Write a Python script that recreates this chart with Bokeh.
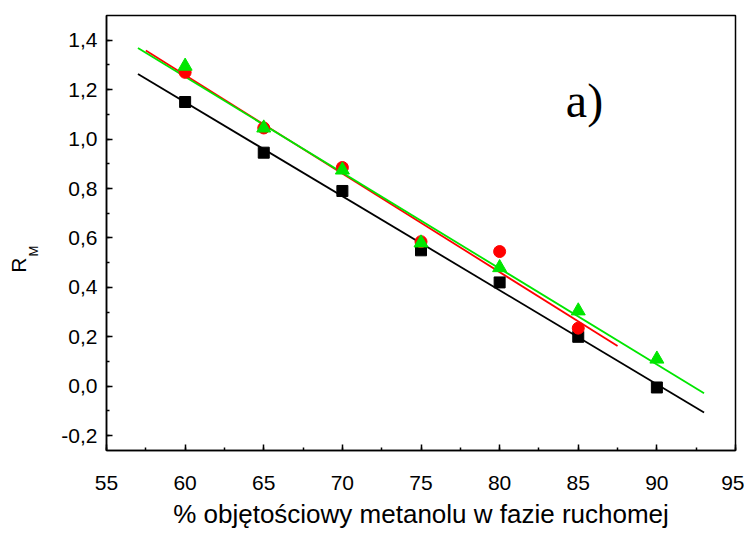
import numpy as np
from bokeh.plotting import figure
from bokeh.models import Label, Range1d, SingleIntervalTicker, CustomJSTickFormatter, LinearAxis, FixedTicker
from bokeh.embed import file_html
from bokeh.resources import INLINE

# data
methanol = [60, 65, 70, 75, 80, 85, 90]
rm_black = [1.15, 0.945, 0.79, 0.55, 0.42, 0.20, -0.005]
methanol_red = [60, 65, 70, 75, 80, 85]
rm_red = [1.27, 1.045, 0.885, 0.585, 0.545, 0.235]
rm_green = [1.295, 1.045, 0.875, 0.58, 0.48, 0.305, 0.11]
fit_span_black = [57, 93]
fit_span_red = [57.5, 87.5]
fit_span_green = [57, 93]

X0, X1 = 55, 95
Y0, Y1 = -0.26, 1.5
W, H = 744, 532
ML, MR, MT, MB = 106, 9, 15, 82

p = figure(width=W, height=H, output_backend="svg", toolbar_location=None,
           x_range=Range1d(X0, X1), y_range=Range1d(Y0, Y1),
           min_border_left=ML, min_border_right=MR, min_border_top=MT, min_border_bottom=MB)
p.grid.visible = False
p.outline_line_color = "black"
p.outline_line_width = 1.5
p.background_fill_color = "white"
p.border_fill_color = "white"

p.xaxis.ticker = SingleIntervalTicker(interval=5, num_minor_ticks=2)
p.yaxis.ticker = SingleIntervalTicker(interval=0.2, num_minor_ticks=2)
p.xaxis.formatter = CustomJSTickFormatter(code="return tick.toFixed(0);")
p.yaxis.formatter = CustomJSTickFormatter(code="return tick.toFixed(1).replace('.', ',');")
for ax in (p.xaxis[0], p.yaxis[0]):
    ax.axis_line_color = "black"
    ax.axis_line_width = 1.5
    ax.major_tick_in = 6
    ax.major_tick_out = 0
    ax.minor_tick_in = 3
    ax.minor_tick_out = 0
    ax.major_tick_line_width = 1.5
    ax.minor_tick_line_width = 1.5
    ax.major_tick_line_color = "black"
    ax.minor_tick_line_color = "black"
    ax.major_label_text_font = "Liberation Sans"
    ax.major_label_text_font_size = "21px"
    ax.major_label_text_color = "black"
p.xaxis.major_label_standoff = 25
p.yaxis.major_label_standoff = 9
p.xaxis.axis_label = "% objętościowy metanolu w fazie ruchomej"
p.xaxis.axis_label_text_font = "Liberation Sans"
p.xaxis.axis_label_text_font_size = "26px"
p.xaxis.axis_label_text_font_style = "normal"
p.xaxis.axis_label_text_color = "black"
p.xaxis.axis_label_text_line_height = 1.0
p.xaxis.axis_label_standoff = 6

# y axis label: R with subscript M (M on the inner axis, R on an outer, tick-less axis)
NB = "\u00a0"
p.yaxis.axis_label = "M" + NB * 10
p.yaxis.axis_label_text_font = "Liberation Sans"
p.yaxis.axis_label_text_font_size = "13px"
p.yaxis.axis_label_text_font_style = "normal"
p.yaxis.axis_label_text_color = "black"
p.yaxis.axis_label_standoff = 17

outer = LinearAxis(ticker=FixedTicker(ticks=[]), axis_line_color=None,
                   major_tick_in=0, major_tick_out=0, minor_tick_in=0, minor_tick_out=0,
                   major_label_text_font_size="0px",
                   axis_label="R" + NB * 11, axis_label_text_font="Liberation Sans",
                   axis_label_text_font_size="21px", axis_label_text_font_style="normal",
                   axis_label_text_color="black", axis_label_standoff=-6)
p.add_layout(outer, "left")

# fit lines
for xs_, ys_, span, col in [(methanol, rm_black, fit_span_black, "black"),
                            (methanol_red, rm_red, fit_span_red, "red"),
                            (methanol, rm_green, fit_span_green, "#00e600")]:
    k, b = np.polyfit(xs_, ys_, 1)
    sx = np.array(span, dtype=float)
    p.line(sx, k * sx + b, line_color=col, line_width=1.8)

p.scatter(methanol, rm_black, marker="square", size=11, fill_color="black", line_color="black")
p.scatter(methanol_red, rm_red, marker="circle", size=12, fill_color="red", line_color="red")
p.scatter(methanol, rm_green, marker="triangle", size=14, fill_color="#00e600", line_color="#00e600")

fw = W - ML - MR
fh = H - MT - MB
def dx(px):
    return X0 + (px - ML) / fw * (X1 - X0)
def dy(py):
    return Y1 - (py - MT) / fh * (Y1 - Y0)

p.add_layout(Label(x=dx(584), y=dy(100), text="a)", text_font="Liberation Serif",
                   text_font_size="48px", text_align="center", text_baseline="alphabetic",
                   text_color="black"))

open("out.html", "w").write(file_html(p, INLINE))
